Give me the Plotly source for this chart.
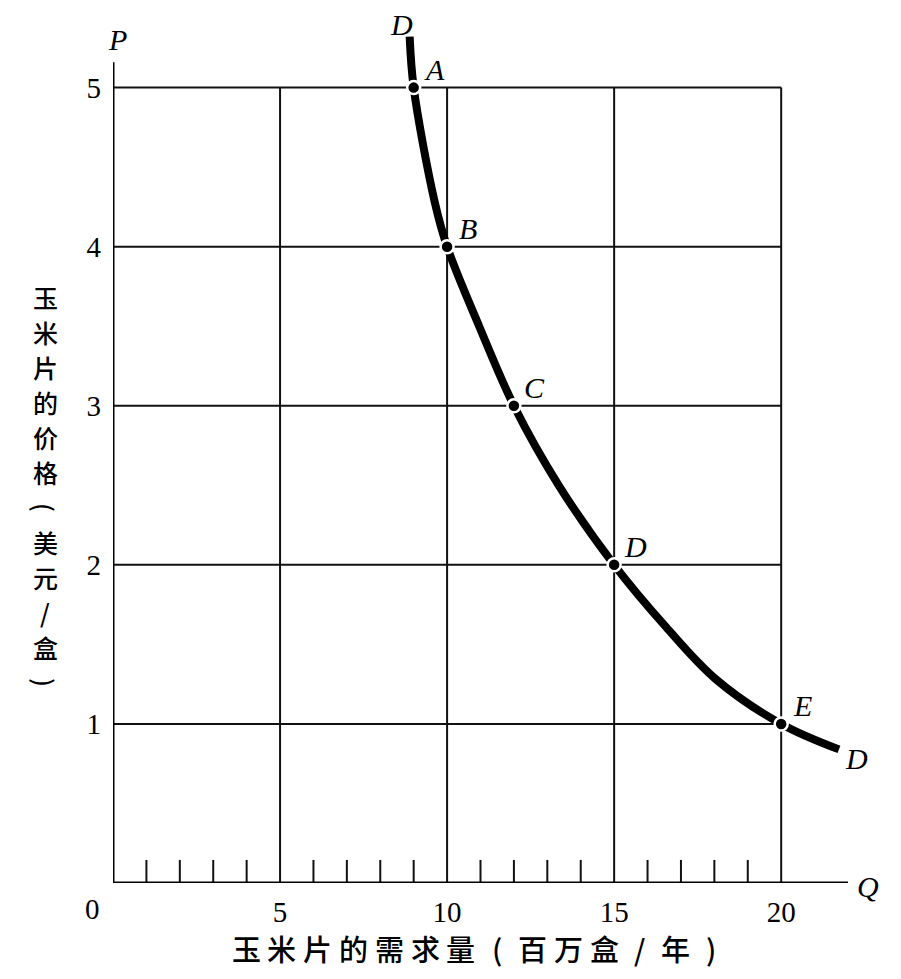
import plotly.graph_objects as go

# ---- data ----
point_names = ["A", "B", "C", "D", "E"]
point_q = [9, 10, 12, 15, 20]
point_p = [5, 4, 3, 2, 1]

# demand curve D
curve_q = [8.88, 9.0, 9.63, 10.0, 10.96, 12.0, 13.34, 15.0, 16.55, 18.05, 20.0, 21.73]
curve_p = [5.32, 5.0, 4.28, 4.0, 3.5, 3.0, 2.5, 2.0, 1.61, 1.28, 1.0, 0.84]

x_grid = [5, 10, 15, 20]
y_grid = [1, 2, 3, 4, 5]
x_minor = [q for q in range(1, 20) if q % 5 != 0]
x_max = 22
y_max = 5.45
y_axis_top = 5.16

x_title_chars = ["玉", "米", "片", "的", "需", "求", "量", "(", "百", "万", "盒", "/", "年", ")"]
y_title_chars = ["玉", "米", "片", "的", "价", "格", "(", "美", "元", "/", "盒", ")"]

# ---- layout (pixel geometry of the page; body has an 8px margin) ----
PL, PT, PW, PH = 113, 16, 735, 867   # plot area on screen


def px_to_paper(px, py):
    return (px - PL) / PW, (PT + PH - py) / PH


x_title_px = [246 + i * 35.8 for i in range(len(x_title_chars))]
x_title_py = 948
y_title_px = 45
y_title_py = [297 + i * 35.0 for i in range(len(y_title_chars))]

serif = "Liberation Serif"
cjk = "Noto Sans CJK SC"
ital = dict(family=serif, size=30, color="black")

fig = go.Figure()

fig.add_trace(go.Scatter(
    x=curve_q, y=curve_p, mode="lines",
    line=dict(color="black", width=8, shape="spline", smoothing=1.0),
    cliponaxis=False, hoverinfo="skip", showlegend=False))

fig.add_trace(go.Scatter(
    x=point_q, y=point_p, mode="markers",
    marker=dict(color="black", size=13, line=dict(color="white", width=2.5)),
    cliponaxis=False, showlegend=False))

shapes = []
for gx in x_grid:
    shapes.append(dict(type="line", x0=gx, x1=gx, y0=0, y1=max(y_grid),
                       line=dict(color="#111", width=2), layer="below"))
for gy in y_grid:
    shapes.append(dict(type="line", x0=0, x1=max(x_grid), y0=gy, y1=gy,
                       line=dict(color="#111", width=2), layer="below"))
for mx in x_minor:
    shapes.append(dict(type="line", x0=mx, x1=mx, y0=0, y1=0.145,
                       line=dict(color="#111", width=2), layer="below"))
shapes.append(dict(type="line", x0=0, x1=x_max, y0=0, y1=0,
                   line=dict(color="black", width=3)))
shapes.append(dict(type="line", x0=0, x1=0, y0=0, y1=y_axis_top,
                   line=dict(color="black", width=3)))

annotations = []
for n, q, p in zip(point_names, point_q, point_p):
    annotations.append(dict(x=q, y=p, text=f"<i>{n}</i>", showarrow=False,
                            xshift=21, yshift=18, font=ital))
annotations.append(dict(x=curve_q[0], y=curve_p[0], text="<i>D</i>", showarrow=False,
                        xshift=-8, yshift=12, font=ital))
annotations.append(dict(x=curve_q[-1], y=curve_p[-1], text="<i>D</i>", showarrow=False,
                        xshift=18, yshift=-9, font=ital))
annotations.append(dict(x=0, y=y_axis_top, text="<i>P</i>", showarrow=False,
                        xshift=4, yshift=23, font=ital))
annotations.append(dict(x=x_max, y=0, text="<i>Q</i>", showarrow=False,
                        xshift=20, yshift=-3, font=ital))
annotations.append(dict(x=0, y=0, text="0", showarrow=False,
                        xshift=-21, yshift=-26, font=dict(family=serif, size=29, color="black")))

for ch, px in zip(x_title_chars, x_title_px):
    ax, ay = px_to_paper(px, x_title_py)
    annotations.append(dict(xref="paper", yref="paper", x=ax, y=ay, text=ch,
                            showarrow=False, xanchor="center", yanchor="middle",
                            font=dict(family=cjk, size=29, color="black", weight=500)))
for ch, py in zip(y_title_chars, y_title_py):
    ax, ay = px_to_paper(y_title_px, py)
    annotations.append(dict(xref="paper", yref="paper", x=ax, y=ay, text=ch,
                            showarrow=False, xanchor="center", yanchor="middle",
                            textangle=90 if ch in "()" else 0,
                            font=dict(family=cjk, size=25, color="black", weight=500)))

fig.update_layout(
    width=893, height=971,
    margin=dict(l=PL - 8, r=893 - (PL - 8) - PW, t=PT - 8, b=971 - (PT - 8) - PH),
    plot_bgcolor="white", paper_bgcolor="white",
    shapes=shapes, annotations=annotations,
    xaxis=dict(range=[0, x_max], showgrid=False, zeroline=False, showline=False,
               automargin=False,
               tickvals=x_grid, ticktext=[str(v) for v in x_grid], ticks="",
               ticklabelstandoff=9,
               tickfont=dict(family=serif, size=29, color="black")),
    yaxis=dict(range=[0, y_max], showgrid=False, zeroline=False, showline=False,
               automargin=False,
               tickvals=y_grid, ticktext=[str(v) for v in y_grid], ticks="",
               ticklabelstandoff=11,
               tickfont=dict(family=serif, size=29, color="black")),
)

fig.write_html("out.html")
